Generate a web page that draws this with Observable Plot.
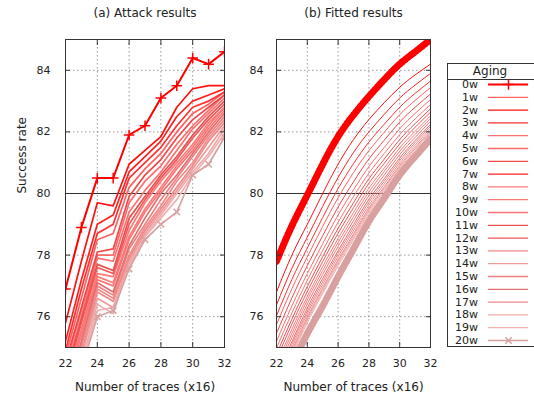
<!DOCTYPE html>
<html><head><meta charset="utf-8">
<script src="https://cdn.jsdelivr.net/npm/d3@7"></script>
<script src="https://cdn.jsdelivr.net/npm/@observablehq/plot@0.6"></script>
<style>
body{margin:0;background:#fff;}
#chart{position:relative;width:534px;height:398px;overflow:hidden;font-family:"DejaVu Sans";color:#222;}
#chart > svg, #chart > div{position:absolute;}
</style></head><body><div id="chart"></div>
<script>
const xs = [22,23,24,25,26,27,28,29,30,31,32];
const xTicks = [22,24,26,28,30,32];
const yTicks = [76,78,80,82,84];
const xGrid = [24,26,28,30];
const yGrid = [76,78,82,84];
const labels = ["0w","1w","2w","3w","4w","5w","6w","7w","8w","9w","10w","11w","12w","13w","14w","15w","16w","17w","18w","19w","20w"];
const colors = ["#ff0000","#ff6060","#ff1010","#ff3030","#ff7070","#ff6a6a","#f04848","#ff2020","#ff7a7a","#ff7878","#ff7575","#e85050","#f05858","#f08888","#f09a9a","#f08080","#e07070","#f08a8a","#f0aaaa","#f0b0b0","#d9a0a0"];

// (a) Attack results
const a0w  = [76.9,78.9,80.5,80.5,81.9,82.2,83.1,83.5,84.4,84.2,84.6];
const a2w  = [75.8,77.8,79.7,79.6,80.95,81.4,81.85,82.8,83.4,83.5,83.5];
const a7w  = [75.2,77.2,79.0,79.3,80.7,81.2,81.7,82.5,83.0,83.2,83.4];
const a3w  = [74.9,76.9,78.7,79.0,80.5,81.0,81.5,82.2,82.8,83.0,83.3];
const a1w  = [74.7,76.6,78.5,78.7,80.2,80.8,81.3,82.0,82.6,82.9,83.3];
const a6w  = [74.5,76.3,78.1,78.2,79.9,80.6,81.1,81.8,82.4,82.8,83.2];
const a5w  = [74.4,76.2,78.0,78.0,79.7,80.4,80.9,81.6,82.2,82.7,83.2];
const a4w  = [74.2,76.0,77.9,77.8,79.4,80.1,80.7,81.4,82.1,82.6,83.1];
const a11w = [74.1,75.9,77.7,77.5,79.2,79.9,80.6,81.2,81.9,82.5,83.0];
const a12w = [74.0,75.8,77.6,77.4,79.0,79.8,80.5,81.1,81.8,82.4,82.9];
const a8w  = [73.9,75.6,77.4,77.3,78.8,79.7,80.4,81.0,81.6,82.3,82.8];
const a9w  = [73.8,75.5,77.3,77.1,78.6,79.5,80.2,80.9,81.5,82.2,82.8];
const a10w = [73.7,75.4,77.2,77.0,78.5,79.4,80.1,80.8,81.4,82.1,82.7];
const a16w = [73.6,75.2,77.1,76.8,78.3,79.2,80.0,80.6,81.3,82.0,82.6];
const a15w = [73.5,75.1,77.0,76.7,78.2,79.0,79.8,80.5,81.2,81.9,82.5];
const a17w = [73.4,75.0,76.9,76.6,78.0,78.9,79.6,80.4,81.0,81.8,82.4];
const a13w = [73.3,74.8,76.8,76.5,77.9,78.8,79.5,80.2,80.9,81.7,82.3];
const a14w = [73.2,74.7,76.6,76.3,77.8,78.7,79.4,80.1,80.8,81.5,82.2];
const a18w = [73.1,74.5,76.4,76.1,77.7,78.6,79.3,80.0,80.7,81.3,82.1];
const a19w = [73.0,74.4,76.2,76.3,77.6,78.6,79.2,79.8,80.6,81.2,81.95];
const a20w = [72.8,74.3,76.0,76.2,77.55,78.5,79.0,79.4,80.6,80.95,81.83];

// (b) Fitted results
const f0w  = [77.8,78.95,79.95,80.95,81.85,82.55,83.15,83.7,84.2,84.6,85.0];
const f2w  = [76.8,78.0,79.0,80.0,80.95,81.75,82.4,82.95,83.45,83.85,84.2];
const f7w  = [76.38,77.57,78.58,79.58,80.52,81.33,82.0,82.57,83.1,83.52,83.9];
const f3w  = [76.03,77.21,78.23,79.22,80.16,80.97,81.67,82.25,82.8,83.25,83.65];
const f1w  = [75.74,76.91,77.94,78.93,79.86,80.68,81.39,81.99,82.56,83.02,83.44];
const f6w  = [75.46,76.61,77.66,78.63,79.56,80.38,81.12,81.73,82.32,82.8,83.23];
const f5w  = [75.2,76.35,77.4,78.37,79.3,80.12,80.87,81.5,82.1,82.6,83.05];
const f4w  = [74.98,76.12,77.18,78.15,79.07,79.9,80.66,81.3,81.91,82.42,82.89];
const f11w = [74.78,75.92,76.98,77.95,78.87,79.7,80.48,81.12,81.75,82.27,82.75];
const f12w = [74.62,75.76,76.82,77.79,78.71,79.54,80.33,80.98,81.61,82.15,82.64];
const f8w  = [74.46,75.59,76.66,77.63,78.54,79.38,80.17,80.83,81.48,82.02,82.52];
const f9w  = [74.34,75.46,76.54,77.5,78.41,79.25,80.05,80.72,81.37,81.92,82.43];
const f10w = [74.21,75.33,76.41,77.37,78.28,79.12,79.93,80.6,81.26,81.82,82.34];
const f16w = [74.08,75.19,76.28,77.24,78.14,78.99,79.81,80.48,81.15,81.72,82.24];
const f15w = [73.98,75.1,76.18,77.14,78.05,78.89,79.72,80.4,81.07,81.65,82.18];
const f17w = [73.89,75.0,76.09,77.04,77.95,78.79,79.62,80.31,80.99,81.57,82.11];
const f13w = [73.79,74.9,75.99,76.94,77.85,78.69,79.53,80.22,80.91,81.5,82.04];
const f14w = [73.73,74.83,75.93,76.88,77.78,78.63,79.47,80.17,80.86,81.45,81.99];
const f18w = [73.66,74.77,75.86,76.81,77.72,78.56,79.41,80.11,80.8,81.4,81.95];
const f19w = [73.6,74.7,75.8,76.75,77.65,78.5,79.35,80.05,80.75,81.35,81.9];
const f20w = [73.3,74.4,75.45,76.35,77.3,78.2,79.1,79.85,80.6,81.2,81.77];

const attackSets = [a0w,a1w,a2w,a3w,a4w,a5w,a6w,a7w,a8w,a9w,a10w,a11w,a12w,a13w,a14w,a15w,a16w,a17w,a18w,a19w,a20w];
const fittedSets = [f0w,f1w,f2w,f3w,f4w,f5w,f6w,f7w,f8w,f9w,f10w,f11w,f12w,f13w,f14w,f15w,f16w,f17w,f18w,f19w,f20w];

const toRows = sets => sets.flatMap((vals, i) => vals.map((v, j) => ({x: xs[j], y: v, label: labels[i]})));

const chart = document.getElementById("chart");
const FONT = "DejaVu Sans";
const INK = "#222";

function panel({rows, title, left, width, ml, mr, fitted, ylabel}) {
  const zero = rows.filter(d => d.label === "0w");
  const last = rows.filter(d => d.label === "20w");
  const others = rows.filter(d => d.label !== "0w" && d.label !== "20w");
  const curve = fitted ? "natural" : "linear";
  const marks = [
    Plot.gridX(xGrid, {stroke: "#999", strokeOpacity: 1, strokeDasharray: "1.5,2.5"}),
    Plot.gridY(yGrid, {stroke: "#999", strokeOpacity: 1, strokeDasharray: "1.5,2.5"}),
    Plot.ruleY([80], {stroke: "#333", strokeWidth: 1}),
  ];
  if (!fitted) {
    marks.push(
      Plot.line(zero, {x: "x", y: "y", z: "label", stroke: "label", strokeWidth: 2, clip: true}),
      Plot.dot(zero, {x: "x", y: "y", symbol: "plus", r: 3.5, stroke: "label", strokeWidth: 1.5, clip: true}),
      Plot.line(others, {x: "x", y: "y", z: "label", stroke: "label", strokeWidth: 1.7, clip: true}),
      Plot.line(last, {x: "x", y: "y", z: "label", stroke: "label", strokeWidth: 1.7, clip: true}),
      Plot.dot(last, {x: "x", y: "y", symbol: "times", r: 3, stroke: "label", strokeWidth: 1.5, clip: true})
    );
  } else {
    marks.push(
      Plot.line(zero, {x: "x", y: "y", z: "label", stroke: "label", strokeWidth: 2, curve, clip: true}),
      Plot.line(zero, {x: "x", y: "y", z: "label", stroke: "label", strokeWidth: 7, strokeDasharray: "1.2,2.4", curve, clip: true}),
      Plot.line(others, {x: "x", y: "y", z: "label", stroke: "label", strokeWidth: 1, curve, clip: true}),
      Plot.line(last, {x: "x", y: "y", z: "label", stroke: "label", strokeWidth: 2, curve, clip: true}),
      Plot.line(last, {x: "x", y: "y", z: "label", stroke: "label", strokeWidth: 7, strokeDasharray: "1.2,2.4", curve, clip: true})
    );
  }
  marks.push(
    Plot.frame({stroke: "#333", strokeWidth: 1}),
    Plot.axisX(xTicks, {tickSize: 0, tickPadding: 12, fontSize: 11, label: null, fill: INK}),
    Plot.axisX(xTicks, {tickSize: -5, tickFormat: () => "", label: null, stroke: "#333"}),
    Plot.axisX(xTicks, {anchor: "top", tickSize: -5, tickFormat: () => "", label: null, stroke: "#333"}),
    Plot.axisY(yTicks, {tickSize: 0, tickPadding: fitted ? 13 : 15, fontSize: 11, label: null, fill: INK}),
    Plot.axisY(yTicks, {tickSize: -5, tickFormat: () => "", label: null, stroke: "#333"}),
    Plot.axisY(yTicks, {anchor: "right", tickSize: -5, tickFormat: () => "", label: null, stroke: "#333"}),
    Plot.text([title], {frameAnchor: "top", lineAnchor: "middle", dy: -26, fontSize: 12, fill: INK}),
    Plot.text(["Number of traces (x16)"], {frameAnchor: "bottom", lineAnchor: "middle", dy: 39.5, fontSize: 12, fill: INK})
  );
  if (ylabel) marks.push(Plot.text([ylabel], {frameAnchor: "left", rotate: -90, dx: -43, fontSize: 12, fill: INK}));
  const svg = Plot.plot({
    width, height: 398,
    marginLeft: ml, marginRight: mr, marginTop: 39, marginBottom: 51,
    x: {domain: [22, 32]},
    y: {domain: [75, 85]},
    color: {domain: labels, range: colors},
    style: {fontFamily: FONT, fontSize: "11px", background: "transparent", overflow: "visible"},
    marks
  });
  svg.style.left = left + "px";
  svg.style.top = "0px";
  chart.appendChild(svg);
}

panel({rows: toRows(attackSets), title: "(a) Attack results", left: 0, width: 240, ml: 65, mr: 16, fitted: false, ylabel: "Success rate"});
panel({rows: toRows(fittedSets), title: "(b) Fitted results", left: 240, width: 200, ml: 36, mr: 10, fitted: true});

// Legend box
const box = document.createElement("div");
Object.assign(box.style, {left: "446.5px", top: "62.5px", width: "110px", height: "284px", border: "1px solid #333", boxSizing: "border-box"});
chart.appendChild(box);
const hdr = document.createElement("div");
Object.assign(hdr.style, {left: "446.5px", top: "78.5px", width: "110px", height: "0px", borderTop: "1px solid #333"});
chart.appendChild(hdr);

const legendRows = labels.map((label, i) => ({label, i}));
const legend = Plot.plot({
  width: 94, height: 398,
  marginLeft: 0, marginRight: 0, marginTop: 0, marginBottom: 0,
  x: {domain: [0, 94], range: [0, 94], axis: null},
  y: {domain: [0, labels.length - 1], range: [84, 340], axis: null},
  color: {domain: labels, range: colors},
  style: {fontFamily: FONT, fontSize: "11px", background: "transparent", overflow: "visible"},
  marks: [
    Plot.text(["Aging"], {x: () => 49.5, frameAnchor: "top", lineAnchor: "middle", dy: 70.5, fontSize: 12, fill: INK}),
    Plot.text(legendRows, {x: () => 37.5, y: "i", text: "label", textAnchor: "end", fontSize: 11, fill: INK}),
    Plot.ruleY(legendRows, {y: "i", x1: () => 48, x2: () => 88, stroke: "label", strokeWidth: d => d.label === "0w" ? 2 : 1.3}),
    Plot.dot(legendRows.filter(d => d.label === "0w"), {x: () => 68, y: "i", symbol: "plus", r: 3.5, stroke: "label", strokeWidth: 1.5}),
    Plot.dot(legendRows.filter(d => d.label === "20w"), {x: () => 68, y: "i", symbol: "times", r: 3, stroke: "label", strokeWidth: 1.5})
  ]
});
legend.style.left = "440px";
legend.style.top = "0px";
chart.appendChild(legend);
</script>
</body></html>
